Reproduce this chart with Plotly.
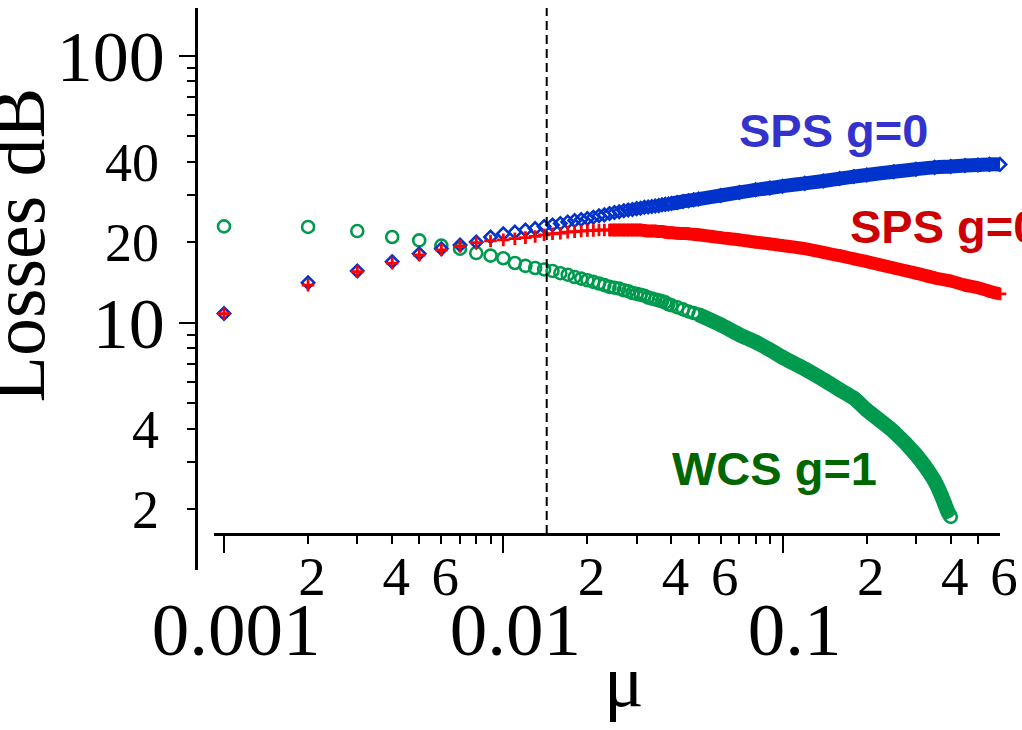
import plotly.graph_objects as go

# ---------------- data ----------------
mu_sps = [0.001, 0.002, 0.003, 0.004, 0.005, 0.006, 0.007, 0.008, 0.009, 0.010,
          0.011, 0.012, 0.013, 0.014, 0.015, 0.016, 0.017, 0.018, 0.019, 0.020,
          0.021, 0.022, 0.023, 0.024, 0.025, 0.026, 0.027, 0.028, 0.029, 0.030,
          0.031, 0.032, 0.033, 0.034, 0.035, 0.036, 0.037, 0.038, 0.039, 0.040,
          0.042, 0.044, 0.046, 0.048, 0.050,
          0.06, 0.07, 0.08, 0.09, 0.10,
          0.12, 0.14, 0.16, 0.18, 0.20,
          0.25, 0.30, 0.35, 0.40, 0.45, 0.50, 0.55, 0.60]

loss_sps_blue = [10.8, 14.1, 15.6, 16.9, 18.1, 18.9, 19.5, 20.0, 20.9, 21.5,
                 21.8, 22.2, 22.5, 22.9, 23.2, 23.5, 23.8, 24.1, 24.3, 24.5,
                 24.8, 25.1, 25.3, 25.6, 25.8, 26.0, 26.2, 26.4, 26.5, 26.7,
                 26.8, 27.0, 27.1, 27.2, 27.3, 27.4, 27.6, 27.7, 27.8, 27.9,
                 28.15, 28.4, 28.6, 28.8, 29.0,
                 29.9, 30.7, 31.4, 31.9, 32.4,
                 33.2, 33.9, 34.6, 35.2, 35.7,
                 36.7, 37.5, 38.1, 38.4, 38.7, 38.9, 39.1, 39.1]

loss_sps_red = [10.8, 13.8, 15.5, 16.7, 17.9, 18.7, 19.3, 19.9, 20.2, 20.4,
                20.6, 20.8, 21.0, 21.3, 21.5, 21.6, 21.8, 21.9, 22.0, 22.1,
                22.1, 22.2, 22.2, 22.2, 22.2, 22.2, 22.2, 22.2, 22.2, 22.2,
                22.2, 22.1, 22.0, 22.0, 22.0, 21.9, 21.9, 21.8, 21.7, 21.7,
                21.6, 21.55, 21.5, 21.4, 21.3,
                20.8, 20.4, 20.0, 19.7, 19.4,
                18.9, 18.3, 17.8, 17.3, 16.9,
                16.0, 15.3, 14.7, 14.3, 13.8, 13.5, 13.1, 12.8]

mu_wcs = [0.001, 0.002, 0.003, 0.004, 0.005, 0.006, 0.007, 0.008, 0.009, 0.010,
          0.011, 0.012, 0.013, 0.014, 0.015, 0.016, 0.017, 0.018, 0.019, 0.020,
          0.021, 0.022, 0.023, 0.024, 0.025, 0.026, 0.027, 0.028, 0.029, 0.030,
          0.031, 0.032, 0.033, 0.034, 0.035, 0.036, 0.037, 0.038, 0.039, 0.040,
          0.042, 0.044, 0.046, 0.048, 0.050,
          0.06, 0.07, 0.08, 0.09, 0.10,
          0.12, 0.14, 0.16, 0.18, 0.20,
          0.25, 0.30, 0.35, 0.37, 0.38, 0.39, 0.40]

loss_wcs_green = [22.9, 22.8, 22.0, 20.9, 20.3, 19.4, 18.9, 18.2, 17.8, 17.4,
                  16.7, 16.3, 16.0, 15.8, 15.6, 15.3, 15.1, 14.8, 14.6, 14.4,
                  14.2, 14.0, 13.8, 13.6, 13.5, 13.4, 13.2, 13.1, 12.9, 12.8,
                  12.7, 12.6, 12.4, 12.3, 12.2, 12.1, 12.0, 11.9, 11.7, 11.6,
                  11.4, 11.2, 11.0, 10.85, 10.7,
                  9.8, 9.0, 8.45, 7.9, 7.4,
                  6.7, 6.1, 5.6, 5.2, 4.7,
                  3.9, 3.2, 2.55, 2.25, 2.1, 1.96, 1.87]

mu_threshold = 0.0143

x_major_vals = [0.001, 0.01, 0.1]
x_major_text = ["0.001", "0.01", "0.1"]
x_minor_label_vals = [0.002, 0.004, 0.006, 0.02, 0.04, 0.06, 0.2, 0.4, 0.6]
x_minor_label_text = ["2", "4", "6", "2", "4", "6", "2", "4", "6"]
x_minor_tick_vals = [m * d for d in (0.001, 0.01, 0.1) for m in range(2, 10) if m * d <= 0.6]

y_major_vals = [10, 100]
y_major_text = ["10", "100"]
y_minor_label_vals = [2, 4, 20, 40]
y_minor_label_text = ["2", "4", "20", "40"]
y_minor_tick_vals = [m * d for d in (1, 10) for m in range(2, 10)]

series_labels = ["SPS g=0", "SPS g=0", "WCS g=1"]

# ---------------- style ----------------
W, H = 1022, 730
X_RANGE = [-3.0358, -0.2218]
Y_RANGE = [0.0730, 2.1783]
X_DOMAIN = [214 / W, 1000 / W]
Y_DOMAIN = [(H - 570) / H, (H - 7.9) / H]
X_AXIS_POS = (H - 534) / H
Y_AXIS_POS = 196 / W
X_AXIS_Y_VALUE = 10 ** 0.2079

BLUE = "#0033cc"
RED = "#ff0000"
GREEN = "#009a4e"
SERIF = "Liberation Serif"
SANS = "Liberation Sans"

fig = go.Figure()

# thick bands where markers are so dense they merge
def band(mu, loss, start_mu, color, width):
    i = mu.index(start_mu)
    fig.add_trace(go.Scatter(x=mu[i:], y=loss[i:], mode="lines",
                             line=dict(color=color, width=width, shape="spline"),
                             hoverinfo="skip", showlegend=False))

band(mu_wcs, loss_wcs_green, 0.05, GREEN, 15)
band(mu_sps, loss_sps_blue, 0.04, BLUE, 14)
band(mu_sps, loss_sps_red, 0.024, RED, 13)

fig.add_trace(go.Scatter(x=mu_wcs, y=loss_wcs_green, mode="markers", name=series_labels[2],
                         marker=dict(symbol="circle-open", size=12, color=GREEN,
                                     line=dict(width=2.6, color=GREEN)),
                         cliponaxis=False, showlegend=False))
fig.add_trace(go.Scatter(x=mu_sps, y=loss_sps_blue, mode="markers", name=series_labels[0],
                         marker=dict(symbol="diamond-open", size=9.5, color=BLUE,
                                     line=dict(width=2.6, color=BLUE)),
                         cliponaxis=False, showlegend=False))
fig.add_trace(go.Scatter(x=mu_sps, y=loss_sps_red, mode="markers", name=series_labels[1],
                         marker=dict(symbol="cross-thin-open", size=9, color=RED,
                                     line=dict(width=2.8, color=RED)),
                         cliponaxis=False, showlegend=False))

# vertical dashed marker line
fig.add_trace(go.Scatter(x=[mu_threshold, mu_threshold],
                         y=[X_AXIS_Y_VALUE, 10 ** Y_RANGE[1]], mode="lines",
                         line=dict(color="black", width=2, dash="9px,5px"),
                         hoverinfo="skip", showlegend=False))

# helper traces so the overlay label axes get drawn
fig.add_trace(go.Scatter(x=[], y=[], xaxis="x2", yaxis="y", showlegend=False))
fig.add_trace(go.Scatter(x=[], y=[], xaxis="x", yaxis="y2", showlegend=False))

common_x = dict(type="log", range=X_RANGE, domain=X_DOMAIN, anchor="free",
                position=X_AXIS_POS, showgrid=False, zeroline=False, automargin=False)
common_y = dict(type="log", range=Y_RANGE, domain=Y_DOMAIN, anchor="free",
                position=Y_AXIS_POS, showgrid=False, zeroline=False, side="left",
                automargin=False)

fig.update_layout(
    width=W, height=H, autosize=False,
    margin=dict(l=0, r=0, t=0, b=0, pad=0),
    paper_bgcolor="white", plot_bgcolor="white",
    showlegend=False,
    xaxis=dict(**common_x, showline=True, linecolor="black", linewidth=2.5,
               tickmode="array", tickvals=x_major_vals, ticktext=x_major_text,
               ticks="outside", ticklen=17, tickwidth=2, tickcolor="black",
               tickfont=dict(family=SERIF, size=75, color="black"),
               ticklabelstandoff=12, ticklabelshift=12,
               minor=dict(tickmode="array", tickvals=x_minor_tick_vals, ticks="outside",
                          ticklen=8, tickwidth=2, tickcolor="black", showgrid=False)),
    xaxis2=dict(**common_x, overlaying="x", showline=False, side="bottom",
                tickmode="array", tickvals=x_minor_label_vals, ticktext=x_minor_label_text,
                ticks="", tickfont=dict(family=SERIF, size=55, color="black"),
                ticklabelstandoff=5, ticklabelshift=4),
    yaxis=dict(**common_y, showline=True, linecolor="black", linewidth=2.5,
               tickmode="array", tickvals=y_major_vals, ticktext=y_major_text,
               ticks="outside", ticklen=16, tickwidth=2, tickcolor="black",
               tickfont=dict(family=SERIF, size=72, color="black"),
               ticklabelstandoff=0,
               minor=dict(tickmode="array", tickvals=y_minor_tick_vals, ticks="outside",
                          ticklen=8, tickwidth=2, tickcolor="black", showgrid=False)),
    yaxis2=dict(**common_y, overlaying="y", showline=False,
                tickmode="array", tickvals=y_minor_label_vals, ticktext=y_minor_label_text,
                ticks="", tickfont=dict(family=SERIF, size=54, color="black"),
                ticklabelstandoff=37),
)

annotations = [
    dict(text="<b>SPS g=0</b>", x=-1.1646, y=1.7184, color="#3333cc"),
    dict(text="<b>SPS g=0</b>", x=-0.7674, y=1.3588, color="#cc0000"),
    dict(text="<b>WCS g=1</b>", x=-1.4043, y=0.4524, color="#006600"),
]
for a in annotations:
    fig.add_annotation(text=a["text"], x=a["x"], y=a["y"], xref="x", yref="y",
                       xanchor="left", yanchor="middle", showarrow=False,
                       font=dict(family=SANS, size=47, color=a["color"]))

# axis titles
fig.add_annotation(text="Losses dB", textangle=-90, xref="paper", yref="paper",
                   x=17.5 / W, y=(H - 245) / H, xanchor="center", yanchor="middle",
                   showarrow=False, font=dict(family=SERIF, size=76, color="black"))
fig.add_annotation(text="μ", xref="paper", yref="paper",
                   x=624 / W, y=(H - 681) / H, xanchor="center", yanchor="middle",
                   showarrow=False, font=dict(family=SERIF, size=74, color="black"))

fig.write_html("out.html")
